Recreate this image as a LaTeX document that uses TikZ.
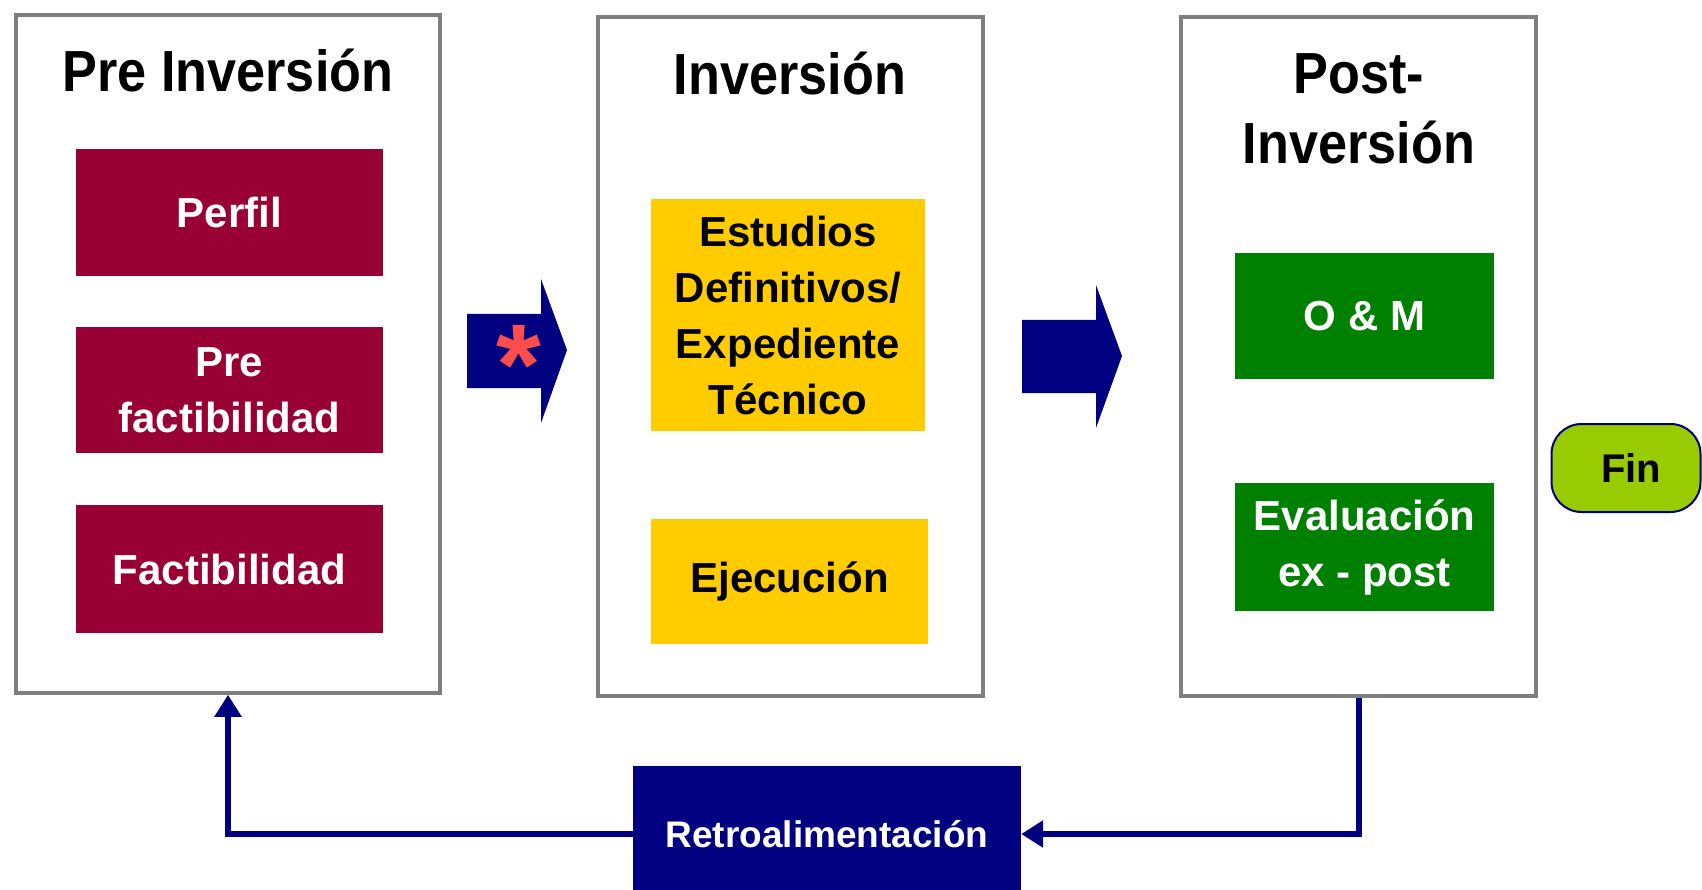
\documentclass[tikz,border=0pt]{standalone}
\usepackage{fontspec}
\setmainfont{Liberation Sans}
\newfontfamily\titlefont{Liberation Sans}[FakeStretch=0.9]
\usetikzlibrary{arrows.meta}
\definecolor{maroon}{HTML}{990033}
\definecolor{gold}{HTML}{FFCC00}
\definecolor{dkgreen}{HTML}{008000}
\definecolor{navy}{HTML}{000080}
\definecolor{lime}{HTML}{99CC00}
\definecolor{frame}{HTML}{7F7F7F}
\definecolor{star}{HTML}{FF4C4C}
\tikzset{
  phase/.style={draw=frame, line width=3.5pt, fill=white, minimum width=#1, inner sep=0pt},
  item/.style={fill=#1, text=white, font=\fontsize{42}{56}\selectfont\bfseries, align=center, inner sep=0pt},
  title/.style={font=\titlefont\fontsize{58}{70}\selectfont\bfseries, align=center, inner sep=0pt},
  fb/.style={draw=navy, line width=6pt, -{Triangle[length=22pt,width=26pt]}},
  blockarrow/.style={fill=navy}
}
\begin{document}
\begin{tikzpicture}[x=1pt,y=-1pt]
\useasboundingbox (0,0) rectangle (1702,890);
% phase frames
\node[phase=424pt, minimum height=678pt] (pre) at (228,354) {};
\node[phase=385pt, minimum height=679pt] (inv) at (790.5,356.5) {};
\node[phase=355pt, minimum height=679pt] (post) at (1358.5,356.5) {};
% titles
\node[title] (tpre) at (228,71) {Pre Inversión};
\node[title] (tinv) at (790,74) {Inversión};
\node[title] (tpost) at (1359,109) {Post-\\Inversión};
% items
\node[item=maroon, minimum width=307pt, minimum height=127pt] (perfil) at (229.5,212.5) {Perfil};
\node[item=maroon, minimum width=307pt, minimum height=126pt] (prefac) at (229.5,390) {Pre\\factibilidad};
\node[item=maroon, minimum width=307pt, minimum height=128pt] (fac) at (229.5,569) {Factibilidad};
\node[item=gold, text=black, minimum width=274pt, minimum height=232pt] (est) at (788,315) {Estudios\\Definitivos/\\Expediente\\Técnico};
\node[item=gold, text=black, minimum width=277pt, minimum height=125pt] (ejec) at (789.5,581.5) {Ejecución};
\node[item=dkgreen, minimum width=259pt, minimum height=126pt] (om) at (1364.5,316) {O \& M};
\node[item=dkgreen, minimum width=259pt, minimum height=128pt] (eval) at (1364.5,547) {Evaluación\\ex - post};
% Fin
\node[draw=navy, line width=2pt, fill=lime, rounded corners=30pt, minimum width=149pt, minimum height=88pt, inner sep=0pt,
      font=\fontsize{40}{48}\selectfont\bfseries] (fin) at (1626,468) {\hspace*{10pt}Fin};
% block arrows
\fill[blockarrow] (467,314) -- (541,314) -- (541,279) -- (567,350) -- (541,423) -- (541,388) -- (467,388) -- cycle;
\fill[blockarrow] (1022,320) -- (1096,320) -- (1096,285) -- (1122,356) -- (1096,428) -- (1096,393) -- (1022,393) -- cycle;
\node[anchor=base, text=star, inner sep=0pt, font=\fontsize{115}{115}\selectfont\bfseries] (ast) at (519,404) {*};
% feedback
\node[fill=navy, text=white, minimum width=388pt, minimum height=136pt, inner sep=0pt,
      font=\fontsize{37}{44}\selectfont\bfseries] (retro) at (827,834) {Retroalimentación};
\draw[fb] (post.south) |- (retro.east);
\draw[fb] (retro.west) -| (pre.south);
\end{tikzpicture}
\end{document}
